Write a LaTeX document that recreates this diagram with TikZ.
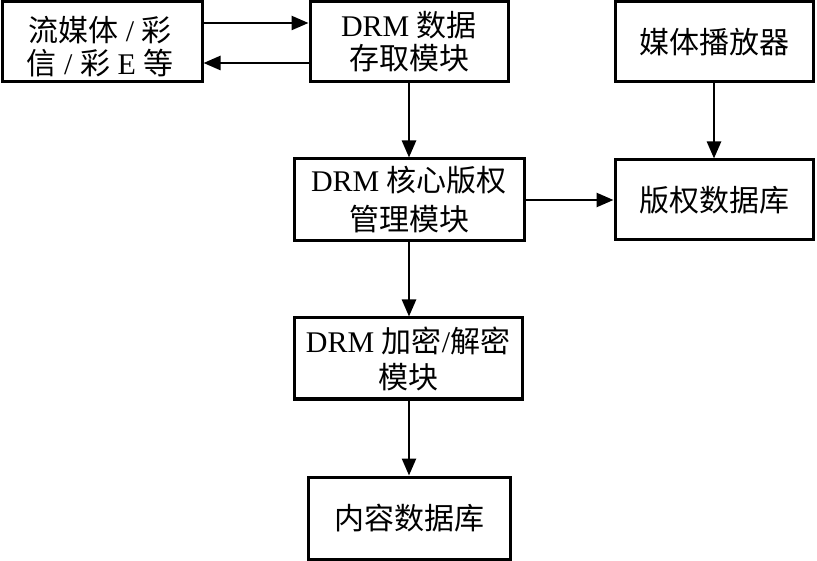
\documentclass[tikz,border=0pt]{standalone}
\usepackage{fontspec}
\setmainfont{Liberation Serif}
\newfontfamily\cjk{Noto Sans CJK SC}
\newcommand{\lat}[1]{{\rmfamily #1}}
\usetikzlibrary{arrows.meta}
\begin{document}
\begin{tikzpicture}[x=1pt,y=-1pt,
  box/.style={draw,line width=3pt,minimum width=#1,inner sep=0pt,align=center},
  txt/.style={font=\fontsize{30}{#1}\selectfont\cjk},
  arr/.style={line width=2.5pt,-{Triangle[length=17pt,width=14pt]}}]
\useasboundingbox[fill=white] (0,0) rectangle (817,561);
\node[box=200pt,minimum height=80pt] (b1) at (102,42) {};
\node[txt=33,align=center,inner sep=0pt] (b1t) at (100,47) {流媒体\lat{ / }彩\\信\lat{ / }彩\lat{ E }等};
\node[box=198pt,minimum height=80pt,txt=33] (b2) at (409,42) {\lat{DRM }数据\\存取模块};
\node[box=198pt,minimum height=80pt,txt=33] (b3) at (714,42) {媒体播放器};
\node[box=230pt,minimum height=82pt,txt=39] (b4) at (409,200) {\lat{DRM }核心版权\\管理模块};
\node[box=198pt,minimum height=80pt,txt=33] (b5) at (714,200) {版权数据库};
\node[box=228pt,minimum height=81pt,txt=36] (b6) at (408,358.5) {\lat{DRM }加密\lat{/}解密\\模块};
\node[box=202pt,minimum height=82pt,txt=33] (b7) at (409,518) {内容数据库};
\draw[arr] (b1.east |- 0,23) -- (b2.west |- 0,23);
\draw[arr] (b2.west |- 0,63) -- (b1.east |- 0,63);
\draw[arr] (b2.south) -- (b4.north);
\draw[arr] (b3.south) -- (b5.north);
\draw[arr] (b4.east) -- (b5.west);
\draw[arr] (b4.south) -- (b6.north -| b4.south);
\draw[arr] (b6.south -| b4.south) -- (b7.north);
\end{tikzpicture}
\end{document}
